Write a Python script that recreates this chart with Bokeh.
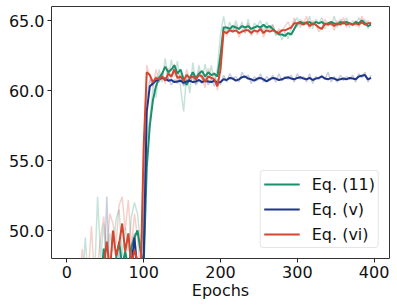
from bokeh.plotting import figure
from bokeh.models import Range1d, FixedTicker, PrintfTickFormatter, Legend, LegendItem
from bokeh.embed import file_html
from bokeh.resources import INLINE

epochs = list(range(0, 400, 4))

g_raw = [45, 45, 45, 45, 45, 46, 49.5, 46, 47, 46.5, 52.4, 48.0, 50.5, 47.5, 49.8, 48.5, 50.8, 51.5, 48.2, 50.2, 48.5, 51.0, 52.0, 51.2, 49.0,
         50, 56.5, 58.0, 60.2, 59.5, 61.5, 60.6, 62.3, 60.8, 62.2, 61.0, 62.1, 60.2, 58.5, 61.2, 59.8, 62.0, 60.5, 61.8, 60.7, 61.9, 60.6, 61.8, 60.5, 61.6,
         64.0, 65.3, 64.1, 64.9, 64.2, 65.0, 64.3, 64.9, 64.1, 65.1, 64.0, 64.8, 64.6, 65.0, 64.2, 64.9, 64.4, 64.7, 63.9, 64.3, 63.6, 64.2, 63.7, 64.4, 64.9,
         65.2, 64.5, 64.9, 64.7, 65.3, 64.4, 65.1, 64.8, 65.2, 64.4, 64.9, 64.6, 65.3, 64.5, 65.1, 64.7, 65.2, 64.5, 65.0, 64.6, 65.2, 64.8, 65.1, 64.4, 64.9]
g_smooth = [45, 45, 45, 45, 45, 45, 45, 45, 45, 45, 45, 46, 48.7, 46.5, 47.5, 46.8, 48.0, 49.2, 47.5, 48.5, 47.2, 48.8, 49.5, 50.0, 48.5,
            47.5, 54.5, 57.5, 59.3, 60.3, 60.9, 61.2, 61.7, 61.3, 61.5, 61.8, 61.2, 61.5, 60.8, 60.4, 60.9, 61.3, 60.9, 61.2, 61.4, 61.0, 61.3, 61.1, 61.2, 61.0,
            62.5, 64.5, 64.5, 64.4, 64.6, 64.5, 64.4, 64.6, 64.5, 64.6, 64.4, 64.5, 64.6, 64.5, 64.7, 64.5, 64.6, 64.4, 64.2, 64.0, 64.0, 63.9, 64.1, 64.0, 64.4,
            64.8, 64.9, 64.8, 64.8, 64.9, 64.7, 64.9, 64.8, 64.9, 64.7, 64.8, 64.9, 64.8, 64.7, 64.9, 64.8, 64.9, 64.8, 64.7, 64.9, 64.8, 65.0, 64.8, 64.6, 64.7]

b_raw = [45, 45, 45, 45, 45, 45, 45, 45, 45, 45, 45, 45, 46, 52.4, 46, 47, 46.5, 48.5, 46, 47.5, 46.5, 49.0, 49.8, 47, 46,
         52, 59.5, 60.8, 60.3, 61.0, 60.6, 61.1, 60.7, 60.9, 60.4, 60.8, 60.5, 61.0, 60.3, 60.8, 60.6, 60.9, 60.4, 60.7, 60.5, 61.0, 60.4, 60.8, 60.3, 60.8,
         60.4, 61.1, 60.6, 61.2, 60.8, 61.0, 60.6, 61.3, 60.9, 61.1, 60.5, 61.0, 60.7, 61.2, 60.6, 61.0, 60.7, 61.1, 60.6, 61.2, 60.7, 61.0, 60.8, 61.1, 60.6,
         61.2, 60.8, 61.0, 60.6, 61.2, 60.5, 61.0, 60.8, 61.1, 60.8, 61.3, 60.6, 61.0, 60.6, 61.1, 60.7, 61.0, 60.8, 61.1, 60.6, 61.2, 60.9, 61.3, 60.6, 61.1]
b_smooth = [45, 45, 45, 45, 45, 45, 45, 45, 45, 45, 45, 45, 45, 45, 45, 45, 45, 45, 45, 45, 45, 47.5, 49.5, 47.0, 45.5,
            48, 58.5, 60.3, 60.5, 60.7, 60.8, 60.9, 60.85, 60.7, 60.75, 60.6, 60.65, 60.7, 60.55, 60.65, 60.7, 60.6, 60.65, 60.75, 60.6, 60.7, 60.65, 60.6, 60.7, 60.55,
            60.6, 60.8, 60.75, 60.9, 60.85, 60.7, 60.8, 60.95, 61.0, 60.85, 60.8, 60.7, 60.85, 60.9, 60.8, 60.65, 60.8, 60.9, 60.85, 60.75, 60.8, 60.9, 60.95, 60.85, 60.8,
            60.9, 60.95, 60.85, 60.8, 60.9, 60.75, 60.85, 60.9, 61.0, 60.85, 60.8, 60.9, 60.85, 60.75, 60.8, 60.85, 60.8, 60.9, 60.85, 60.8, 61.0, 61.05, 61.1, 60.8, 60.9]

r_raw = [45, 45, 45, 45, 46, 48.7, 46, 47, 50.3, 46.5, 47.5, 49.5, 51.0, 48.5, 51.2, 50.5, 49.0, 51.8, 52.4, 50.0, 52.2, 48.8, 51.2, 49.5, 47.0,
         55, 61.8, 61.0, 60.2, 61.5, 60.6, 61.3, 60.5, 61.6, 60.8, 61.9, 60.6, 61.2, 60.4, 61.5, 60.7, 61.3, 60.5, 61.4, 60.9, 60.2, 61.6, 60.8, 61.3, 60.0,
         62.5, 64.6, 63.9, 64.5, 64.2, 64.7, 63.8, 64.4, 64.1, 64.8, 63.9, 64.3, 64.0, 64.6, 63.8, 64.5, 64.3, 64.7, 64.0, 64.4, 64.2, 64.6, 64.9, 64.4, 65.2,
         64.5, 65.1, 64.8, 65.3, 64.4, 65.0, 64.7, 64.2, 64.5, 65.1, 64.6, 64.9, 64.3, 65.0, 64.8, 65.2, 64.5, 64.9, 64.6, 65.0, 64.5, 65.3, 64.7, 65.0, 64.7]
r_smooth = [45, 45, 45, 45, 45, 45, 45, 45, 45, 45, 45, 46, 47.5, 49.2, 47, 50.0, 48.2, 49.0, 50.5, 48.5, 49.8, 47.5, 48.6, 47.8, 46.5,
            56, 61.3, 61.1, 60.6, 60.9, 60.8, 61.0, 60.7, 61.2, 61.0, 61.5, 60.9, 61.0, 60.7, 61.1, 60.9, 61.0, 60.8, 61.1, 61.0, 60.6, 61.0, 60.9, 60.8, 60.3,
            61.5, 64.2, 64.1, 64.3, 64.2, 64.3, 64.1, 64.2, 64.3, 64.3, 64.1, 64.3, 64.2, 64.4, 64.1, 64.3, 64.2, 64.3, 64.2, 64.1, 64.3, 64.3, 64.4, 64.5, 64.8,
            64.8, 64.8, 64.7, 64.9, 64.6, 64.8, 64.7, 64.5, 64.4, 64.8, 64.7, 64.8, 64.6, 64.8, 64.7, 64.9, 64.7, 64.8, 64.7, 64.8, 64.7, 64.9, 64.7, 64.8, 64.8]

labels = ["Eq. (11)", "Eq. (v)", "Eq. (vi)"]
x_ticks = [0, 100, 200, 300, 400]
y_ticks = [50, 55, 60, 65]

FONT = "DejaVu Sans"
colors = ["#1b8f6c", "#1f3688", "#d4462f"]

p = figure(frame_width=338, frame_height=252, output_backend="svg", toolbar_location=None,
           x_range=Range1d(-20, 420), y_range=Range1d(48, 66),
           min_border_left=51, min_border_right=4, min_border_top=6, min_border_bottom=36)
p.background_fill_color = "white"
p.border_fill_color = "white"
p.outline_line_color = "#333333"
p.outline_line_width = 1
p.xgrid.visible = False
p.ygrid.visible = False

series = [(g_raw, g_smooth), (b_raw, b_smooth), (r_raw, r_smooth)]
for (raw, _), c in zip(series, colors):
    p.line(epochs, raw, line_color=c, line_width=1.5, line_alpha=0.25)
smooth_renderers = []
for (_, sm), c in zip(series, colors):
    smooth_renderers.append(p.line(epochs, sm, line_color=c, line_width=2))

items = [LegendItem(label=lab, renderers=[r]) for lab, r in zip(labels, smooth_renderers)]
legend = Legend(items=items, location="bottom_right")
legend.margin = 10
legend.padding = 3
legend.spacing = 5
legend.glyph_width = 36
legend.glyph_height = 20
legend.label_height = 20
legend.label_standoff = 12
legend.label_text_font = FONT
legend.label_text_font_size = "16px"
legend.label_text_color = "#111111"
legend.border_line_color = "#cccccc"
legend.border_line_width = 1
legend.border_radius = 4
legend.background_fill_alpha = 0.85
p.add_layout(legend, "center")

for ax in (p.xaxis[0], p.yaxis[0]):
    ax.axis_line_color = None
    ax.major_tick_line_color = "#222222"
    ax.major_tick_out = 4
    ax.major_tick_in = 0
    ax.minor_tick_line_color = None
    ax.major_label_text_font = FONT
    ax.major_label_text_font_size = "16px"
    ax.major_label_text_color = "#111111"
    ax.major_label_standoff = 3

p.xaxis[0].ticker = FixedTicker(ticks=x_ticks)
p.yaxis[0].ticker = FixedTicker(ticks=y_ticks)
p.yaxis[0].formatter = PrintfTickFormatter(format="%.1f")
p.xaxis[0].axis_label = "Epochs"
p.xaxis[0].axis_label_text_font = FONT
p.xaxis[0].axis_label_text_font_size = "16px"
p.xaxis[0].axis_label_text_font_style = "normal"
p.xaxis[0].axis_label_text_color = "#111111"
p.xaxis[0].axis_label_standoff = 0

open("out.html", "w").write(file_html(p, INLINE))
